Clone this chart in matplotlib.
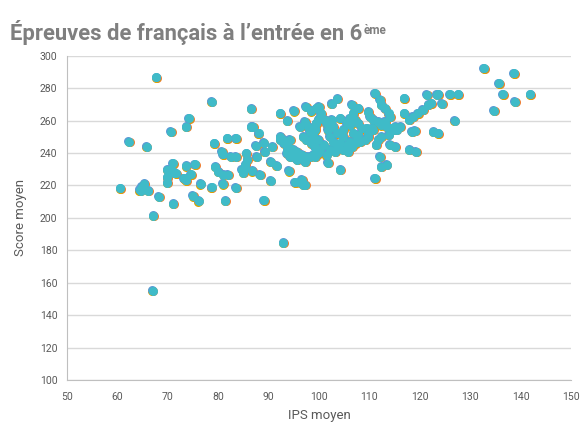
import matplotlib
matplotlib.use("Agg")
import matplotlib.pyplot as plt
import matplotlib.transforms as mtransforms

# IPS moyen (x) et score moyen (y)
ips = [
    67.7, 62.3, 65.8, 70.6, 73.7, 74.2, 71.0, 69.9, 70.6, 71.6,
    69.9, 69.9, 73.7, 73.2, 60.6, 65.3, 64.9, 64.6, 64.4, 66.1,
    68.2, 71.1, 67.1, 67.0, 75.4, 74.6, 73.3, 73.7, 71.3, 75.0,
    76.1, 76.5, 78.7, 80.9, 83.5, 81.4, 89.1, 92.9, 78.7, 79.2,
    81.8, 83.5, 80.7, 80.9, 82.5, 83.5, 85.6, 85.8, 85.4, 84.7,
    85.3, 85.0, 86.8, 86.6, 86.9, 86.6, 88.0, 87.5, 89.0, 89.2,
    87.6, 90.7, 90.4, 91.6, 92.3, 93.7, 95.0, 97.4, 98.5, 99.5,
    94.0, 95.2, 96.2, 97.2, 90.4, 88.3, 79.4, 80.0, 81.0, 81.9,
    92.3, 93.0, 93.7, 94.3, 95.0, 96.2, 97.2,
    92.3, 92.9, 93.6, 94.2, 93.6, 94.2, 94.9, 95.6, 95.9, 96.6,
    96.9, 97.5, 96.2, 97.2, 97.9, 98.2, 98.9, 99.2, 99.5, 99.9,
    96.9, 97.5, 98.5, 99.2, 99.9, 99.5, 95.6, 97.2, 98.2, 99.2,
    99.9, 94.2,
    111.4, 111.8, 112.4, 113.8, 114.4, 113.4, 112.4, 111.8, 110.8, 110.5,
    109.8, 109.8, 109.1, 108.1, 107.8, 108.5, 107.8, 107.1, 106.1, 105.5,
    104.8, 104.8, 104.2, 103.5, 102.8, 102.2, 101.8, 101.5, 101.2, 100.2,
    99.5, 99.2, 98.9, 99.2, 98.9, 100.2, 100.9, 101.5, 102.2, 103.2,
    104.8, 105.8, 106.5, 107.1, 105.5, 103.5, 102.8, 102.5, 104.2, 106.8,
    106.1,
    100.0, 100.4, 102.5, 103.6, 106.5, 106.8, 107.8, 109.8, 110.1, 111.1,
    112.1, 112.4, 113.1, 113.8, 114.1, 116.1, 115.4, 114.4, 116.9, 117.9,
    118.6, 119.6, 120.6, 121.7, 122.3, 118.4, 119.0, 122.7, 123.7, 117.9,
    119.2, 111.1, 112.1, 112.4, 113.4, 104.2, 101.8, 116.9, 121.4, 123.4,
    123.7, 124.4, 126.0, 127.6, 132.7, 135.7, 138.7, 136.5, 138.9, 141.9,
    134.7, 126.9, 113.1, 114.8, 114.1, 115.1, 115.1, 109.5, 110.7, 107.5,
    106.2, 105.5, 96.9, 96.6,
]
score = [
    286.8, 246.9, 244.0, 253.0, 256.3, 261.5, 233.7, 229.6, 230.0, 227.5,
    225.0, 221.7, 232.0, 224.4, 218.3, 220.9, 219.3, 216.8, 217.2, 216.6,
    213.1, 208.6, 201.4, 155.0, 233.0, 226.9, 224.4, 223.2, 227.9, 213.5,
    210.4, 220.9, 218.9, 220.9, 218.6, 210.5, 210.8, 184.7, 271.7, 246.0,
    249.1, 249.1, 240.9, 239.3, 237.8, 237.8, 239.9, 235.8, 232.7, 229.6,
    230.6, 227.9, 228.9, 256.3, 256.3, 267.2, 252.2, 244.6, 246.4, 240.9,
    237.8, 244.0, 234.7, 232.1, 264.6, 259.8, 265.9, 268.6, 265.9, 267.6,
    228.9, 222.0, 222.0, 220.4, 222.8, 226.5, 231.6, 228.5, 226.5, 226.5,
    248.1, 246.0, 241.9, 239.9, 237.8, 237.8, 237.8,
    250.2, 248.1, 245.0, 243.0, 239.9, 237.8, 241.9, 240.9, 237.8, 238.9,
    236.8, 237.8, 256.3, 259.4, 256.3, 253.3, 251.2, 255.3, 258.4, 260.5,
    250.2, 248.1, 246.1, 244.0, 248.1, 241.9, 235.8, 234.7, 237.8, 237.8,
    239.9, 248.1,
    245.0, 248.1, 250.1, 251.2, 255.3, 256.3, 257.3, 259.4, 260.4, 255.3,
    252.2, 250.1, 248.1, 247.0, 251.2, 255.3, 258.4, 260.4, 261.5, 258.4,
    254.2, 250.1, 246.0, 244.0, 247.0, 250.1, 254.2, 258.4, 260.4, 261.5,
    258.4, 254.2, 250.1, 244.0, 238.8, 241.9, 245.0, 238.8, 241.9, 240.9,
    241.9, 240.9, 244.0, 246.0, 245.0, 252.2, 256.3, 260.4, 261.5, 252.2,
    247.0,
    268.6, 264.6, 270.3, 273.4, 269.7, 264.6, 267.6, 265.5, 262.4, 276.9,
    272.8, 269.7, 267.6, 264.6, 262.4, 256.3, 254.3, 255.3, 273.8, 260.4,
    262.4, 264.6, 266.7, 269.7, 270.7, 253.2, 253.8, 253.2, 252.2, 241.9,
    240.9, 224.4, 237.8, 231.6, 232.7, 229.6, 234.1, 264.6, 275.9, 275.9,
    276.2, 270.3, 276.2, 276.2, 292.3, 283.1, 289.3, 276.2, 271.7, 276.2,
    266.0, 259.8, 259.4, 254.3, 245.0, 244.0, 256.3, 255.3, 254.3, 249.1,
    257.3, 259.4, 220.4, 223.4,
]

x_ticks = [50, 60, 70, 80, 90, 100, 110, 120, 130, 140, 150]
y_ticks = [100, 120, 140, 160, 180, 200, 220, 240, 260, 280, 300]

grey = "#595959"
plt.rcParams["font.family"] = ["Roboto", "DejaVu Sans"]

fig = plt.figure(figsize=(5.8, 4.26), dpi=100)
ax = fig.add_axes([0.1155, 0.108, 0.869, 0.761])

# several Excel series sit on the same points; small offsets give the coloured rims
for col, dx, dy in [("#ed7d31", 0.8, -0.4), ("#d9a300", -0.2, -0.5),
                    ("#5b9bd5", -0.6, 0.6), ("#3fbbc8", 0.0, 0.0)]:
    off = mtransforms.offset_copy(ax.transData, fig=fig, x=dx, y=dy, units="dots")
    ax.scatter(ips, score, s=42, color=col, linewidths=0, transform=off, zorder=3)

ax.set_xlim(50, 150)
ax.set_ylim(100, 300)
ax.set_xticks(x_ticks)
ax.set_yticks(y_ticks)
ax.tick_params(length=0, labelsize=7.5, colors=grey)
ax.tick_params(axis="x", pad=9)
ax.tick_params(axis="y", pad=7)
ax.grid(axis="y", color="#d9d9d9", linewidth=1)
ax.set_axisbelow(True)
for s in ["top", "right"]:
    ax.spines[s].set_visible(False)
for s in ["left", "bottom"]:
    ax.spines[s].set_color("#bfbfbf")

ax.set_xlabel("IPS moyen", fontsize=9.5, color=grey, labelpad=5)
ax.set_ylabel("Score moyen", fontsize=9.5, color=grey, labelpad=9)

title = fig.text(0.018, 0.905, "Épreuves de français à l’entrée en 6",
                 fontsize=15.8, fontweight="bold", color="#7f7f7f")
fig.canvas.draw()
bb = title.get_window_extent()
x_end = fig.transFigure.inverted().transform((bb.x1, bb.y1))
fig.text(x_end[0] + 0.002, x_end[1] - 0.032, "ème", fontsize=8.5, fontweight="bold",
         color="#7f7f7f")

fig.savefig("out.png", dpi=100)
